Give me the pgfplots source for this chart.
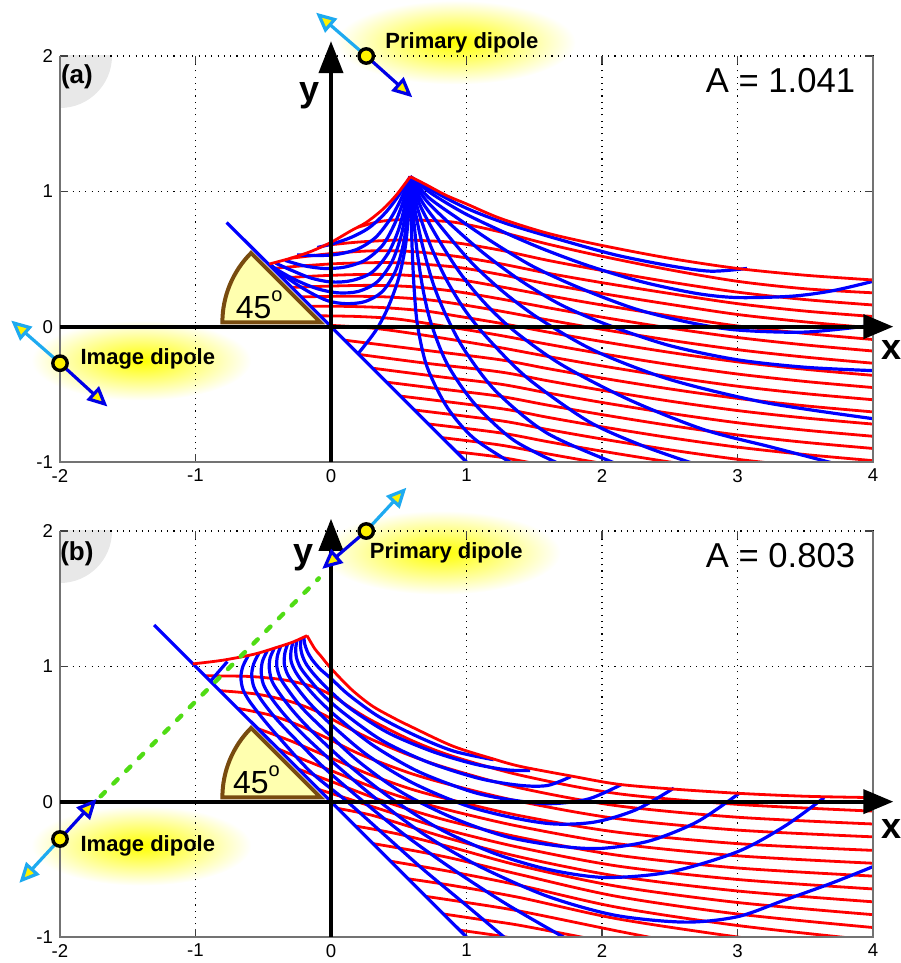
\documentclass[border=0pt]{standalone}
\usepackage{fontspec}
\setmainfont{Liberation Sans}
\usepackage{pgfplots}
\pgfplotsset{compat=1.18}
\usetikzlibrary{arrows.meta}
\definecolor{lb}{RGB}{30,170,240}
\definecolor{db}{RGB}{0,0,230}
\definecolor{wedgefill}{RGB}{255,255,175}
\definecolor{wedgeedge}{RGB}{120,75,15}
\definecolor{gr}{RGB}{80,220,20}
\pgfplotsset{
 base/.style={scale only axis, width=406.5pt, height=203pt, xmin=-2, xmax=4, ymin=-1, ymax=2, anchor=south west},
 plain/.style={base, hide axis, clip=false},
 main/.style={base, xtick={-2,-1,0,1,2,3,4}, ytick={-1,0,1,2}, grid=major,
   major grid style={black, line width=0.55pt, dash pattern=on 0.55pt off 2.6pt},
   axis line style={draw=none}, tick align=inside, major tick length=4pt,
   tick style={black!75, line width=0.6pt},
   ticklabel style={font=\fontsize{9.3}{11}\selectfont},
   /pgf/number format/assume math mode=true},
 rl/.style={red, line width=1.4pt, smooth, no markers},
 bl/.style={blue, line width=1.6pt, smooth, no markers},
 arr/.style={line width=1.6pt, no markers, -{Triangle[length=10pt,width=9pt,fill=yellow]}},
 dip/.style={only marks, mark=*, mark size=3.6pt, mark options={fill=yellow, draw=black, line width=1.7pt}},
}
\begin{document}
\begin{tikzpicture}
\useasboundingbox (0,0) rectangle (450pt,481.5pt);

% ---------- under layers (glows, corner) ----------
\begin{axis}[plain, at={(30pt,250.5pt)}]
\shade[inner color=yellow, outer color=white] (axis cs:0.92,2.10) ellipse [x radius=60pt, y radius=21pt];
\shade[inner color=yellow, outer color=white] (axis cs:-1.40,-0.25) ellipse [x radius=55pt, y radius=20pt];
\begin{scope}
\clip (rel axis cs:0,0) rectangle (rel axis cs:1,1);
\fill[black!9] (rel axis cs:0,1) circle[radius=26pt];
\end{scope}
\end{axis}
\begin{axis}[plain, at={(30pt,13pt)}]
\shade[inner color=yellow, outer color=white] (axis cs:0.81,1.84) ellipse [x radius=60pt, y radius=21pt];
\shade[inner color=yellow, outer color=white] (axis cs:-1.40,-0.325) ellipse [x radius=55pt, y radius=20pt];
\begin{scope}
\clip (rel axis cs:0,0) rectangle (rel axis cs:1,1);
\fill[black!9] (rel axis cs:0,1) circle[radius=26pt];
\end{scope}
\end{axis}

% ---------- panel (a) ----------
\begin{axis}[main, at={(30pt,250.5pt)}]
\filldraw[fill=wedgefill, draw=wedgeedge, line width=2pt] ([shift={(-5.3pt,2.2pt)}]axis cs:0,0) -- ++(135:49pt) arc[start angle=135, end angle=180, radius=49pt] -- cycle;
% red lines
\addplot[rl] coordinates {(0.20,0.735) (0.35,0.775) (0.5,0.79) (0.7,0.785) (0.92,0.77) (1.25,0.70) (1.6,0.61) (2,0.52) (2.5,0.42) (3,0.335) (3.5,0.28) (4,0.25)};
\addplot[rl] coordinates {(-0.05,0.60) (0.2,0.625) (0.5,0.64) (0.7,0.635) (0.92,0.62) (1.25,0.565) (1.6,0.49) (2,0.415) (2.5,0.33) (3,0.255) (3.5,0.20) (4,0.16)};
\addplot[rl] coordinates {(-0.30,0.505) (0,0.54) (0.3,0.56) (0.6,0.555) (0.92,0.52) (1.25,0.465) (1.6,0.395) (2,0.325) (2.5,0.245) (3,0.17) (3.5,0.115) (4,0.075)};
\addplot[rl] coordinates {(-0.43,0.43) (-0.2,0.45) (0.1,0.468) (0.5,0.472) (0.92,0.44) (1.25,0.385) (1.6,0.315) (2,0.245) (2.5,0.165) (3,0.09) (3.5,0.035) (4,-0.01)};
\addplot[rl] coordinates {(-0.36,0.36) (-0.1,0.375) (0.2,0.385) (0.5,0.383) (0.92,0.35) (1.25,0.295) (1.6,0.23) (2,0.16) (2.5,0.08) (3,0.005) (3.5,-0.05) (4,-0.095)};
\addplot[rl] coordinates {(-0.29,0.29) (0,0.30) (0.3,0.305) (0.6,0.295) (0.92,0.26) (1.25,0.205) (1.6,0.14) (2,0.07) (2.5,-0.01) (3,-0.08) (3.5,-0.135) (4,-0.18)};
\addplot[rl] coordinates {(-0.22,0.22) (0.1,0.225) (0.4,0.22) (0.7,0.20) (0.92,0.17) (1.25,0.115) (1.6,0.05) (2,-0.02) (2.5,-0.10) (3,-0.17) (3.5,-0.225) (4,-0.27)};
\addplot[rl] coordinates {(-0.15,0.15) (0.1,0.15) (0.4,0.14) (0.7,0.115) (0.92,0.08) (1.25,0.025) (1.6,-0.04) (2,-0.11) (2.5,-0.19) (3,-0.26) (3.5,-0.315) (4,-0.36)};
\addplot[rl] coordinates {(-0.08,0.08) (0.2,0.075) (0.5,0.055) (0.92,-0.01) (1.25,-0.065) (1.6,-0.13) (2,-0.20) (2.5,-0.28) (3,-0.35) (3.5,-0.405) (4,-0.45)};
\addplot[rl] coordinates {(-0.01,0.01) (0.3,-0.01) (0.6,-0.05) (0.92,-0.10) (1.25,-0.155) (1.6,-0.22) (2,-0.29) (2.5,-0.37) (3,-0.44) (3.5,-0.495) (4,-0.54)};
\addplot[rl] coordinates {(0.10,-0.10) (0.7,-0.175) (1.25,-0.245) (1.6,-0.31) (2,-0.38) (2.5,-0.46) (3,-0.53) (3.5,-0.585) (4,-0.63)};
\addplot[rl] coordinates {(0.205,-0.205) (0.7,-0.27) (1.25,-0.335) (1.6,-0.40) (2,-0.47) (2.5,-0.55) (3,-0.62) (3.5,-0.675) (4,-0.72)};
\addplot[rl] coordinates {(0.307,-0.307) (0.8,-0.37) (1.25,-0.425) (1.6,-0.49) (2,-0.56) (2.5,-0.64) (3,-0.71) (3.5,-0.765) (4,-0.81)};
\addplot[rl] coordinates {(0.41,-0.41) (0.85,-0.465) (1.25,-0.515) (1.6,-0.58) (2,-0.65) (2.5,-0.73) (3,-0.80) (3.5,-0.855) (4,-0.90)};
\addplot[rl] coordinates {(0.513,-0.513) (1.25,-0.605) (1.6,-0.67) (2,-0.74) (2.5,-0.82) (3,-0.89) (3.5,-0.945) (4,-0.99)};
\addplot[rl] coordinates {(0.616,-0.616) (1.25,-0.695) (1.6,-0.76) (2,-0.83) (2.5,-0.91) (3,-0.98) (3.5,-1.035) (4,-1.08)};
\addplot[rl] coordinates {(0.719,-0.719) (1.25,-0.785) (1.6,-0.85) (2,-0.92) (2.5,-1.0) (3,-1.07)};
\addplot[rl] coordinates {(0.82,-0.82) (1.25,-0.875) (1.6,-0.94) (2,-1.01) (2.5,-1.09)};
\addplot[rl] coordinates {(0.925,-0.925) (1.25,-0.965) (1.6,-1.03)};
% blue rays
\addplot[bl] coordinates {(0.585,1.109) (0.50,0.97) (0.40,0.84) (0.28,0.73) (0.15,0.66) (0.02,0.615) (-0.10,0.585)};
\addplot[bl] coordinates {(0.585,1.109) (0.52,0.95) (0.44,0.80) (0.33,0.66) (0.20,0.575) (0.05,0.535) (-0.10,0.525) (-0.25,0.53)};
\addplot[bl] coordinates {(0.585,1.109) (0.535,0.93) (0.47,0.76) (0.38,0.60) (0.25,0.49) (0.10,0.44) (-0.05,0.43) (-0.20,0.45) (-0.34,0.49)};
\addplot[bl] coordinates {(0.585,1.109) (0.55,0.92) (0.50,0.72) (0.42,0.54) (0.30,0.40) (0.15,0.34) (0.0,0.33) (-0.15,0.36) (-0.30,0.42) (-0.41,0.47)};
\addplot[bl] coordinates {(0.585,1.109) (0.56,0.91) (0.52,0.68) (0.45,0.48) (0.34,0.33) (0.20,0.26) (0.05,0.25) (-0.10,0.28) (-0.25,0.34) (-0.38,0.41) (-0.44,0.45)};
\addplot[bl] coordinates {(0.585,1.109) (0.57,0.90) (0.54,0.64) (0.48,0.42) (0.38,0.26) (0.25,0.185) (0.11,0.17) (-0.02,0.19) (-0.15,0.25) (-0.28,0.33) (-0.40,0.42) (-0.45,0.46)};
\addplot[bl] coordinates {(0.585,1.109) (0.575,0.88) (0.55,0.60) (0.50,0.36) (0.42,0.14) (0.33,-0.03) (0.20,-0.20)};
\addplot[bl] coordinates {(0.585,1.109) (0.59,0.85) (0.60,0.55) (0.615,0.26) (0.64,0.0) (0.71,-0.30) (0.86,-0.60) (1.06,-0.83) (1.37,-1.03)};
\addplot[bl] coordinates {(0.585,1.109) (0.605,0.85) (0.635,0.56) (0.68,0.27) (0.74,0.02) (0.86,-0.28) (1.06,-0.57) (1.35,-0.84) (1.72,-1.03)};
\addplot[bl] coordinates {(0.585,1.109) (0.62,0.86) (0.68,0.58) (0.76,0.30) (0.86,0.06) (0.99,-0.18) (1.22,-0.48) (1.6,-0.79) (2.15,-1.03)};
\addplot[bl] coordinates {(0.585,1.109) (0.64,0.87) (0.73,0.61) (0.85,0.35) (0.99,0.12) (1.16,-0.09) (1.45,-0.38) (1.9,-0.70) (2.3,-0.88) (2.7,-1.02)};
\addplot[bl] coordinates {(0.585,1.109) (0.66,0.89) (0.79,0.65) (0.95,0.40) (1.13,0.18) (1.35,-0.03) (1.7,-0.28) (2.2,-0.54) (2.75,-0.76) (3.25,-0.89) (3.75,-1.02)};
\addplot[bl] coordinates {(0.585,1.109) (0.68,0.91) (0.85,0.69) (1.05,0.46) (1.28,0.25) (1.55,0.05) (1.95,-0.18) (2.5,-0.39) (3.2,-0.56) (4,-0.68)};
\addplot[bl] coordinates {(0.585,1.109) (0.70,0.935) (0.90,0.74) (1.13,0.54) (1.4,0.34) (1.7,0.16) (2.05,0.01) (2.5,-0.14) (3.0,-0.245) (3.5,-0.30) (4,-0.325)};
\addplot[bl] coordinates {(0.585,1.109) (0.72,0.955) (0.95,0.79) (1.2,0.62) (1.5,0.44) (1.85,0.28) (2.25,0.13) (2.65,0.03) (3.0,-0.025) (3.5,-0.04) (4,0.01)};
\addplot[bl] coordinates {(0.585,1.109) (0.74,0.985) (0.98,0.84) (1.25,0.71) (1.55,0.58) (1.9,0.45) (2.3,0.33) (2.7,0.245) (3.0,0.215) (3.4,0.225) (3.7,0.265) (4,0.335)};
\addplot[bl] coordinates {(0.585,1.109) (0.75,1.005) (1.0,0.875) (1.3,0.76) (1.7,0.64) (2.1,0.53) (2.5,0.45) (2.8,0.41) (3.07,0.43)};
\addplot[blue, line width=1.6pt, no markers] coordinates {(-0.77,0.77) (1,-1)};
% envelope
\addplot[rl] coordinates {(-0.455,0.463) (-0.3,0.505) (-0.15,0.555) (0,0.623) (0.15,0.71) (0.26,0.77) (0.38,0.865) (0.48,0.97) (0.585,1.109)};
\addplot[rl] coordinates {(0.585,1.109) (0.7,1.05) (0.85,0.97) (1.0,0.907) (1.25,0.80) (1.6,0.69) (2.0,0.60) (2.5,0.505) (3.0,0.43) (3.5,0.38) (4.0,0.345)};
\end{axis}

% ---------- panel (b) ----------
\begin{axis}[main, at={(30pt,13pt)}]
\filldraw[fill=wedgefill, draw=wedgeedge, line width=2pt] ([shift={(-5.3pt,2.2pt)}]axis cs:0,0) -- ++(135:49pt) arc[start angle=135, end angle=180, radius=49pt] -- cycle;
% red lines
\addplot[rl] coordinates {(-0.93,0.93) (-0.6,0.925) (-0.35,0.90) (-0.15,0.855) (0,0.79) (0.15,0.69) (0.3,0.60) (0.6,0.45) (0.9,0.335) (1.4,0.195) (2.11,0.06) (3,-0.02) (4,-0.07)};
\addplot[rl] coordinates {(-0.82,0.82) (-0.55,0.795) (-0.3,0.74) (-0.1,0.665) (0.1,0.56) (0.3,0.46) (0.6,0.335) (0.9,0.235) (1.4,0.10) (2.11,-0.03) (3,-0.115) (4,-0.165)};
\addplot[rl] coordinates {(-0.69,0.69) (-0.45,0.64) (-0.25,0.57) (-0.05,0.48) (0.15,0.38) (0.3,0.315) (0.6,0.205) (0.9,0.12) (1.4,0.0) (2.11,-0.125) (3,-0.21) (4,-0.26)};
\addplot[rl] coordinates {(-0.54,0.54) (-0.3,0.45) (-0.1,0.365) (0.1,0.28) (0.3,0.195) (0.6,0.09) (0.9,0.01) (1.4,-0.105) (2.11,-0.225) (3,-0.31) (4,-0.36)};
\addplot[rl] coordinates {(-0.39,0.39) (-0.2,0.31) (0,0.23) (0.3,0.11) (0.6,0.01) (0.9,-0.07) (1.4,-0.185) (2.11,-0.31) (3,-0.40) (4,-0.455)};
\addplot[rl] coordinates {(-0.24,0.24) (0,0.15) (0.3,0.035) (0.6,-0.065) (0.9,-0.15) (1.4,-0.265) (2.11,-0.395) (3,-0.49) (4,-0.55)};
\addplot[rl] coordinates {(-0.09,0.09) (0.1,0.03) (0.3,-0.035) (0.6,-0.13) (0.9,-0.22) (1.4,-0.34) (2.11,-0.475) (3,-0.575) (4,-0.645)};
\addplot[rl] coordinates {(0.05,-0.05) (0.3,-0.10) (0.6,-0.19) (0.9,-0.28) (1.4,-0.41) (2.11,-0.55) (3,-0.66) (4,-0.74)};
\addplot[rl] coordinates {(0.18,-0.18) (0.5,-0.24) (0.9,-0.34) (1.4,-0.475) (2.11,-0.625) (3,-0.745) (4,-0.835)};
\addplot[rl] coordinates {(0.31,-0.31) (0.6,-0.36) (0.9,-0.42) (1.4,-0.54) (2.11,-0.70) (3,-0.83) (4,-0.93)};
\addplot[rl] coordinates {(0.44,-0.44) (0.9,-0.52) (1.4,-0.62) (2.11,-0.78) (3,-0.915) (4,-1.025)};
\addplot[rl] coordinates {(0.57,-0.57) (0.9,-0.62) (1.4,-0.71) (2.11,-0.865) (3,-1.0) (3.5,-1.06)};
\addplot[rl] coordinates {(0.70,-0.70) (1.0,-0.745) (1.4,-0.81) (2.11,-0.955) (2.5,-1.03)};
\addplot[rl] coordinates {(0.83,-0.83) (1.1,-0.87) (1.4,-0.915) (2.0,-1.03)};
\addplot[rl] coordinates {(0.95,-0.95) (1.2,-0.985) (1.4,-1.02)};
% blue arcs
\addplot[bl] coordinates {(-0.61,1.08) (-0.65,1.0) (-0.665,0.92) (-0.65,0.83) (-0.60,0.74) (-0.50,0.61) (-0.38,0.47) (-0.15,0.22) (0.12,0.0) (0.40,-0.25) (0.68,-0.50) (0.98,-0.75) (1.30,-1.02)};
\addplot[bl] coordinates {(-0.53,1.10) (-0.57,1.02) (-0.585,0.94) (-0.57,0.85) (-0.52,0.76) (-0.42,0.63) (-0.29,0.49) (-0.05,0.25) (0.24,0.0) (0.55,-0.25) (0.90,-0.50) (1.30,-0.76) (1.75,-1.02)};
\addplot[bl] coordinates {(-0.47,1.115) (-0.505,1.04) (-0.515,0.96) (-0.50,0.87) (-0.45,0.78) (-0.35,0.65) (-0.21,0.50) (0.05,0.26) (0.36,0.0) (0.70,-0.25) (1.1,-0.48) (1.6,-0.70) (2.1,-0.84) (2.61,-0.89) (3.0,-0.85) (3.34,-0.73) (3.7,-0.60) (4,-0.48)};
\addplot[bl] coordinates {(-0.42,1.13) (-0.45,1.06) (-0.455,0.98) (-0.435,0.89) (-0.38,0.80) (-0.28,0.67) (-0.14,0.52) (0.13,0.27) (0.45,0.02) (0.8,-0.20) (1.2,-0.38) (1.6,-0.50) (2.02,-0.56) (2.5,-0.52) (3.0,-0.37) (3.35,-0.18) (3.64,0.03)};
\addplot[bl] coordinates {(-0.37,1.15) (-0.395,1.08) (-0.40,1.0) (-0.375,0.915) (-0.32,0.83) (-0.22,0.70) (-0.07,0.55) (0.20,0.30) (0.52,0.07) (0.9,-0.12) (1.3,-0.26) (1.7,-0.33) (2.0,-0.345) (2.35,-0.29) (2.7,-0.15) (3.01,0.06)};
\addplot[bl] coordinates {(-0.32,1.165) (-0.34,1.10) (-0.345,1.02) (-0.32,0.94) (-0.265,0.86) (-0.16,0.73) (-0.01,0.58) (0.26,0.35) (0.6,0.14) (1.0,-0.03) (1.35,-0.12) (1.65,-0.165) (1.95,-0.15) (2.25,-0.06) (2.53,0.10)};
\addplot[bl] coordinates {(-0.28,1.18) (-0.295,1.115) (-0.295,1.04) (-0.265,0.965) (-0.21,0.885) (-0.10,0.76) (0.05,0.62) (0.32,0.41) (0.65,0.22) (1.05,0.07) (1.35,0.01) (1.62,-0.015) (1.9,0.02) (2.14,0.125)};
\addplot[bl] coordinates {(-0.25,1.195) (-0.26,1.135) (-0.255,1.065) (-0.225,0.99) (-0.165,0.91) (-0.06,0.79) (0.10,0.65) (0.38,0.45) (0.72,0.29) (1.1,0.17) (1.4,0.12) (1.6,0.12) (1.77,0.185)};
\addplot[bl] coordinates {(-0.22,1.205) (-0.225,1.15) (-0.215,1.09) (-0.185,1.02) (-0.125,0.94) (-0.02,0.83) (0.14,0.69) (0.42,0.51) (0.75,0.37) (1.05,0.28) (1.3,0.235) (1.47,0.23)};
\addplot[bl] coordinates {(-0.20,1.215) (-0.195,1.17) (-0.175,1.11) (-0.14,1.05) (-0.08,0.98) (0.0,0.91) (0.13,0.79) (0.35,0.63) (0.62,0.49) (0.9,0.375) (1.2,0.31)};
\addplot[blue, line width=1.6pt, no markers] coordinates {(-0.89,0.89) (-0.765,1.035)};
\addplot[blue, line width=1.6pt, no markers] coordinates {(-1.305,1.305) (1,-1)};
% envelope
\addplot[rl] coordinates {(-1.02,1.018) (-0.8,1.045) (-0.566,1.09) (-0.4,1.14) (-0.28,1.18) (-0.177,1.227)};
\addplot[rl] coordinates {(-0.177,1.227) (-0.12,1.13) (-0.074,1.075) (0,0.985) (0.15,0.83) (0.3,0.71) (0.45,0.625) (0.6,0.55) (0.9,0.41) (1.2,0.315) (1.4,0.26) (1.77,0.19) (2.11,0.13) (2.5,0.095) (3.0,0.062) (3.5,0.04) (4,0.03)};
\end{axis}

% ---------- overlays (a) ----------
\begin{axis}[plain, at={(30pt,250.5pt)}]
\draw[black!55, line width=0.8pt] (rel axis cs:0,1) -- (rel axis cs:0,0) -- (rel axis cs:1,0) -- (rel axis cs:1,1);
\draw[black, line width=2pt, -{Triangle[length=15pt,width=12pt]}] (axis cs:-2,0) -- (axis cs:4.15,0);
\draw[black, line width=2pt, -{Triangle[length=16pt,width=12pt]}] (axis cs:0,-1) -- (axis cs:0,2.11);
\node[font=\bfseries\fontsize{18}{18}\selectfont] at (axis cs:4.14,-0.17) {x};
\node[font=\bfseries\fontsize{18}{18}\selectfont] at (axis cs:-0.16,1.71) {y};
\node[font=\fontsize{16}{16}\selectfont] at (axis cs:-0.53,0.16) {45\raisebox{1.0ex}{\fontsize{10}{10}\selectfont o}};
\node[font=\bfseries\fontsize{13}{13}\selectfont] at (axis cs:-1.875,1.85) {(a)};
\node[anchor=east, font=\fontsize{17.3}{18}\selectfont] at (axis cs:3.92,1.82) {A = 1.041};
\node[anchor=west, font=\bfseries\fontsize{11}{12}\selectfont] at (axis cs:0.35,2.095) {Primary dipole};
\node[anchor=west, font=\bfseries\fontsize{11}{12}\selectfont] at (axis cs:-1.90,-0.237) {Image dipole};
\addplot[lb, arr] coordinates {(0.26,2.0) (-0.11,2.32)};
\addplot[db, arr] coordinates {(0.26,2.0) (0.60,1.695)};
\addplot[lb, arr] coordinates {(-2,-0.27) (-2.36,0.045)};
\addplot[db, arr] coordinates {(-2,-0.27) (-1.65,-0.59)};
\addplot[dip] coordinates {(0.26,2.0) (-2,-0.27)};
\end{axis}

% ---------- overlays (b) ----------
\begin{axis}[plain, at={(30pt,13pt)}]
\draw[black!55, line width=0.8pt] (rel axis cs:0,1) -- (rel axis cs:0,0) -- (rel axis cs:1,0) -- (rel axis cs:1,1);
\addplot[gr, line width=2.2pt, line cap=round, dash pattern=on 3pt off 6pt, no markers] coordinates {(-1.70,0.04) (-0.09,1.65)};
\draw[black, line width=2pt, -{Triangle[length=15pt,width=12pt]}] (axis cs:-2,0) -- (axis cs:4.15,0);
\draw[black, line width=2pt, -{Triangle[length=16pt,width=12pt]}] (axis cs:0,-1) -- (axis cs:0,2.09);
\node[font=\bfseries\fontsize{18}{18}\selectfont] at (axis cs:4.14,-0.2) {x};
\node[font=\bfseries\fontsize{18}{18}\selectfont] at (axis cs:-0.2,1.80) {y};
\node[font=\fontsize{16}{16}\selectfont] at (axis cs:-0.55,0.16) {45\raisebox{1.0ex}{\fontsize{10}{10}\selectfont o}};
\node[font=\bfseries\fontsize{13}{13}\selectfont] at (axis cs:-1.875,1.83) {(b)};
\node[anchor=east, font=\fontsize{17.3}{18}\selectfont] at (axis cs:3.92,1.82) {A = 0.803};
\node[anchor=west, font=\bfseries\fontsize{11}{12}\selectfont] at (axis cs:0.235,1.84) {Primary dipole};
\node[anchor=west, font=\bfseries\fontsize{11}{12}\selectfont] at (axis cs:-1.90,-0.325) {Image dipole};
\addplot[lb, arr] coordinates {(0.26,2.0) (0.556,2.32)};
\addplot[db, arr] coordinates {(0.26,2.0) (-0.065,1.72)};
\addplot[lb, arr] coordinates {(-2,-0.276) (-2.30,-0.60)};
\addplot[db, arr] coordinates {(-2,-0.276) (-1.73,0.02)};
\addplot[dip] coordinates {(0.26,2.0) (-2,-0.276)};
\end{axis}
\end{tikzpicture}
\end{document}
